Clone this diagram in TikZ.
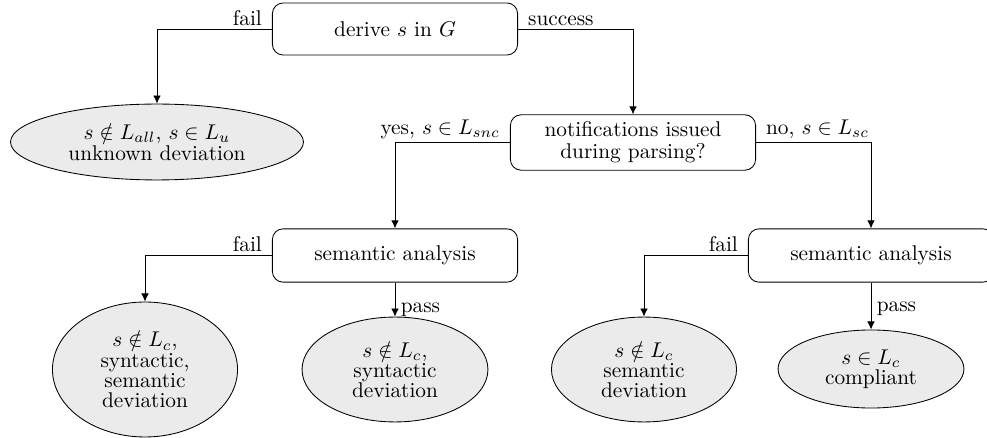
\documentclass[tikz,border=0pt]{standalone}
\usetikzlibrary{shapes.geometric,arrows.meta}
\begin{document}
\begin{tikzpicture}[x=0.469pt,y=-0.469pt,
  proc/.style={draw, rounded corners=5pt, minimum width=115pt, minimum height=25pt, align=center, font=\fontsize{10pt}{10.2pt}\selectfont},
  term/.style={draw, ellipse, fill=black!8, inner sep=0pt, align=center, font=\fontsize{10pt}{9.5pt}\selectfont},
  conn/.style={draw, line width=0.45pt, -{Latex[length=3.8pt,width=3.6pt]}},
  lab/.style={inner xsep=4.5pt, inner ysep=1.5pt, font=\fontsize{10pt}{12pt}\selectfont},
  plab/.style={inner xsep=2.5pt, inner ysep=1pt, anchor=west, font=\fontsize{10pt}{12pt}\selectfont}]
\useasboundingbox (0,0) rectangle (987,438);

\node[proc, minimum height=24.4pt] (derive) at (395,29) {derive $s$ in $G$};
\node[term, minimum width=137.4pt, minimum height=35.6pt] (ell1) at (157,142) {$s\notin L_{all}$, $s\in L_u$\\unknown deviation};
\node[proc, minimum height=25.8pt] (notif) at (633,142.5) {notifications issued\\during parsing?};
\node[proc] (sem1) at (395,255.5) {semantic analysis};
\node[proc] (sem2) at (871,255.5) {semantic analysis};
\node[term, minimum width=86.8pt, minimum height=63.3pt] (ell2) at (145,369.5) {$s\notin L_c$,\\syntactic,\\semantic\\deviation};
\node[term, minimum width=87.2pt, minimum height=49.2pt] (ell3) at (395,369.5) {$s\notin L_c$,\\syntactic\\deviation};
\node[term, minimum width=86.8pt, minimum height=49.2pt] (ell4) at (644,369.5) {$s\notin L_c$\\semantic\\deviation};
\node[term, minimum width=87.2pt, minimum height=36.6pt] (ell5) at (871,369) {$s\in L_c$\\compliant};

\draw[conn] (derive.west) -| node[lab, pos=0, anchor=south east] (lfail1) {fail} (ell1.north);
\draw[conn] (derive.east) -| node[lab, pos=0, anchor=south west] (lsucc) {success} (notif.north);
\draw[conn] (notif.west) -| node[lab, pos=0, anchor=south east] (lyes) {yes, $s\in L_{snc}$} (sem1.north);
\draw[conn] (notif.east) -| node[lab, pos=0, anchor=south west] (lno) {no, $s\in L_{sc}$} (sem2.north);
\draw[conn] (sem1.west) -| node[lab, pos=0, anchor=south east] (lfail2) {fail} (ell2.north);
\draw[conn] (sem1.south) -- node[plab, pos=0.8] (lpass1) {pass} (ell3.north);
\draw[conn] (sem2.west) -| node[lab, pos=0, anchor=south east] (lfail3) {fail} (ell4.north);
\draw[conn] (sem2.south) -- node[plab, pos=0.55] (lpass2) {pass} (ell5.north);
\end{tikzpicture}
\end{document}
